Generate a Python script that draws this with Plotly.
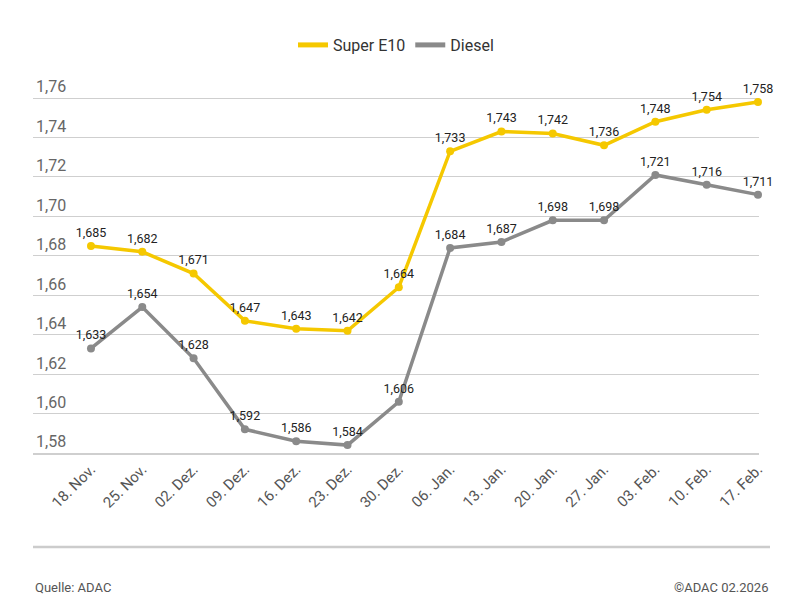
import plotly.graph_objects as go

dates = ["18. Nov.", "25. Nov.", "02. Dez.", "09. Dez.", "16. Dez.", "23. Dez.", "30. Dez.",
         "06. Jan.", "13. Jan.", "20. Jan.", "27. Jan.", "03. Feb.", "10. Feb.", "17. Feb."]
super_e10 = [1.685, 1.682, 1.671, 1.647, 1.643, 1.642, 1.664, 1.733, 1.743, 1.742, 1.736, 1.748, 1.754, 1.758]
diesel = [1.633, 1.654, 1.628, 1.592, 1.586, 1.584, 1.606, 1.684, 1.687, 1.698, 1.698, 1.721, 1.716, 1.711]
y_ticks = [1.58, 1.60, 1.62, 1.64, 1.66, 1.68, 1.70, 1.72, 1.74, 1.76]

FONT = "Roboto, sans-serif"
YELLOW = "#F5C800"
GREY = "#8A8A8A"

x_idx = list(range(len(dates)))

# page is offset by the 8px body margin; figure coords = page coords - 8
W, H = 792, 592
L, R, T, B = 25, 41, 57, 147
W_PLOT = W - L - R
H_PLOT = H - T - B
PX_PER_UNIT = 355 / 0.18
Y_TOP = 1.76 + (98 - 8 - T) / PX_PER_UNIT
Y_BOTTOM = 1.58


def py(page_y):
    return (H - B - (page_y - 8)) / H_PLOT


def px(page_x):
    return ((page_x - 8) - L) / W_PLOT


fig = go.Figure()
for name, vals, col in [("Super E10", super_e10, YELLOW), ("Diesel", diesel, GREY)]:
    fig.add_trace(go.Scatter(
        x=x_idx, y=vals, name=name, mode="lines+markers+text", showlegend=False,
        line=dict(color=col, width=3.5), marker=dict(color=col, size=8),
        text=vals, texttemplate="%{y:.3f}", textposition="top center",
        textfont=dict(family=FONT, size=12.5, color="#222"),
        cliponaxis=False,
    ))
    fig.add_trace(go.Scatter(x=[None], y=[None], name=name, mode="lines",
                             line=dict(color=col, width=5), showlegend=True))

fig.update_layout(
    width=W, height=H,
    paper_bgcolor="white", plot_bgcolor="white",
    separators=",.",
    margin=dict(l=L, r=R, t=T, b=B, autoexpand=False),
    font=dict(family=FONT, color="#555"),
    showlegend=True,
    legend=dict(orientation="h", x=0.5, xanchor="center", y=py(45), yanchor="middle",
                font=dict(family=FONT, size=16, color="#333"), itemwidth=30),
    xaxis=dict(
        range=[-1.13, 13.02], tickmode="array", tickvals=x_idx, ticktext=dates,
        tickangle=-45, tickfont=dict(family=FONT, size=15, color="#555"),
        showgrid=False, zeroline=False, showline=True, linecolor="#CFCFCF", linewidth=1.5,
        ticks="", automargin=False,
    ),
    yaxis=dict(
        range=[Y_BOTTOM, Y_TOP], tickmode="array", tickvals=y_ticks, tickformat=".2f",
        ticklabelposition="inside top", tickfont=dict(family=FONT, size=16, color="#666"),
        showgrid=True, gridcolor="#CFCFCF", gridwidth=1.3, zeroline=False, showline=False,
        ticks="", automargin=False,
    ),
)

fig.add_shape(type="line", xref="paper", yref="paper", x0=px(33), x1=px(770),
              y0=py(547), y1=py(547), line=dict(color="#CCCCCC", width=2.5))
fig.add_annotation(text="Quelle: ADAC", xref="paper", yref="paper", x=px(33), xanchor="left",
                   y=py(587), yanchor="middle", showarrow=False,
                   font=dict(family=FONT, size=13, color="#555"))
fig.add_annotation(text="©ADAC 02.2026", xref="paper", yref="paper",
                   x=px(770), xanchor="right",
                   y=py(587), yanchor="middle", showarrow=False,
                   font=dict(family=FONT, size=13, color="#555"))

fig.write_html("out.html")
